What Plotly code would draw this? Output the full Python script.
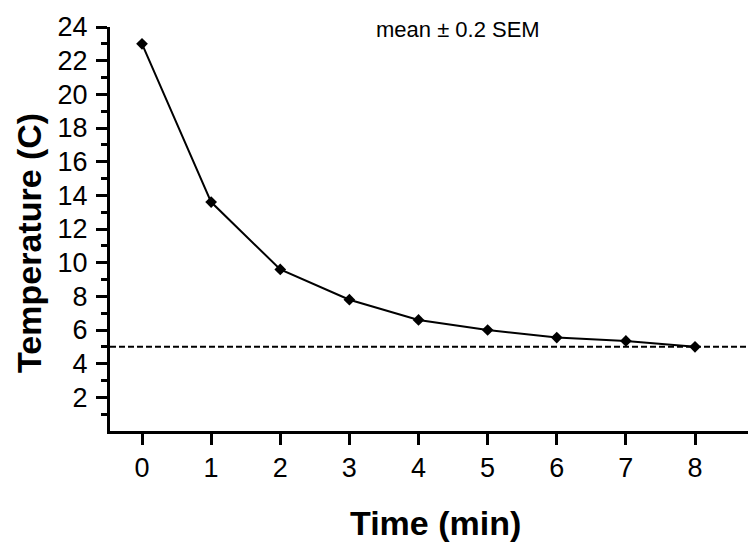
import plotly.graph_objects as go

time_min = [0, 1, 2, 3, 4, 5, 6, 7, 8]
temperature = [23.0, 13.6, 9.6, 7.8, 6.6, 6.0, 5.55, 5.35, 5.0]
threshold = 5
x_ticks = [0, 1, 2, 3, 4, 5, 6, 7, 8]
y_ticks = [2, 4, 6, 8, 10, 12, 14, 16, 18, 20, 22, 24]
y_minor = [1, 3, 5, 7, 9, 11, 13, 15, 17, 19, 21, 23]

FONT = "Liberation Sans, Arial, sans-serif"

fig = go.Figure()
fig.add_trace(go.Scatter(
    x=time_min, y=temperature, mode="lines+markers",
    line=dict(color="black", width=2),
    marker=dict(symbol="diamond", size=9, color="black"),
    cliponaxis=False, showlegend=False,
))

fig.add_shape(type="line", xref="paper", x0=0, x1=1, yref="y", y0=threshold, y1=threshold,
              line=dict(color="black", width=2, dash="6px,3px"))

fig.add_annotation(text="mean ± 0.2 SEM", xref="paper", yref="paper", x=0.535, y=0.995,
                   xanchor="center", yanchor="middle", showarrow=False,
                   font=dict(family=FONT, size=22, color="black"))
fig.add_annotation(text="<b>Time (min)</b>", xref="paper", yref="paper", x=0.5, y=-0.228,
                   xanchor="center", yanchor="middle", showarrow=False,
                   font=dict(family=FONT, size=34, color="black"))
fig.add_annotation(text="<b>Temperature (C)</b>", xref="paper", yref="paper", x=-0.125, y=0.465,
                   xanchor="center", yanchor="middle", showarrow=False, textangle=-90,
                   font=dict(family=FONT, size=34, color="black"))

fig.update_xaxes(range=[-0.463, 8.94], tickvals=x_ticks, ticks="outside", ticklen=11, tickwidth=3,
                 tickcolor="black", showline=True, linecolor="black", linewidth=3,
                 showgrid=False, zeroline=False,
                 tickfont=dict(family=FONT, size=27, color="black"))
fig.update_yaxes(range=[0, 24.001], tickvals=y_ticks, ticks="outside", ticklen=11, tickwidth=3,
                 tickcolor="black", showline=True, linecolor="black", linewidth=3,
                 showgrid=False, zeroline=False, ticklabelstandoff=3, ticklabeloverflow="allow",
                 minor=dict(tickvals=y_minor, ticks="outside", ticklen=6, tickwidth=3, tickcolor="black", showgrid=False),
                 tickfont=dict(family=FONT, size=27, color="black"))

fig.update_layout(width=756, height=556, margin=dict(l=102, r=4, t=15, b=133),
                  plot_bgcolor="white", paper_bgcolor="white")

fig.write_html("out.html")
